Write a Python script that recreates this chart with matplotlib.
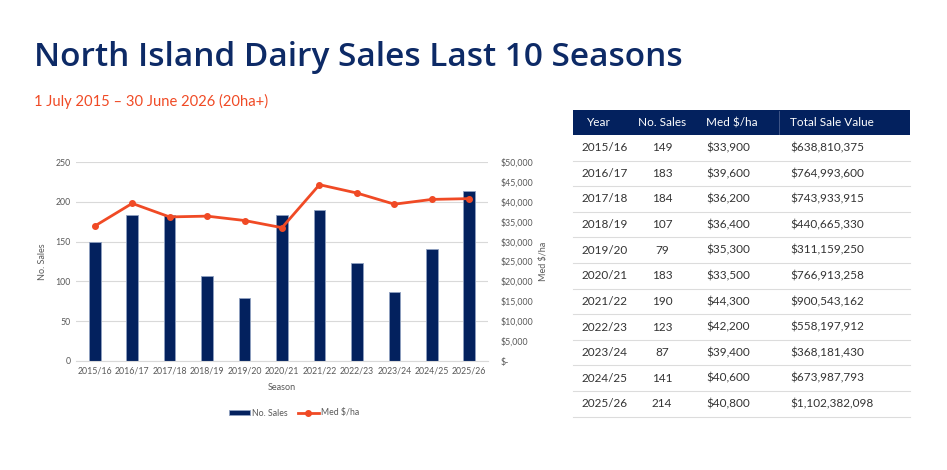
import matplotlib
matplotlib.use("Agg")
import matplotlib.pyplot as plt
from matplotlib.ticker import FuncFormatter, MultipleLocator
from matplotlib.patches import Rectangle

# ---- data ----
seasons = ["2015/16", "2016/17", "2017/18", "2018/19", "2019/20", "2020/21",
           "2021/22", "2022/23", "2023/24", "2024/25", "2025/26"]
no_sales = [149, 183, 184, 107, 79, 183, 190, 123, 87, 141, 214]
med_per_ha = [33900, 39600, 36200, 36400, 35300, 33500, 44300, 42200, 39400, 40600, 40800]
total_value = ["$638,810,375", "$764,993,600", "$743,933,915", "$440,665,330",
               "$311,159,250", "$766,913,258", "$900,543,162", "$558,197,912",
               "$368,181,430", "$673,987,793", "$1,102,382,098"]
table_headers = ["Year", "No. Sales", "Med $/ha", "Total Sale Value"]

title = "North Island Dairy Sales Last 10 Seasons"
subtitle = "1 July 2015 \u2013 30 June 2026 (20ha+)"

NAVY = "#0d2a66"
BAR = "#03215e"
RED = "#f04a25"
GRID = "#d9d9d9"
TXT = "#595959"

plt.rcParams["font.family"] = ["Lato", "DejaVu Sans"]

W, H = 947, 470
fig = plt.figure(figsize=(W / 100, H / 100), dpi=100)

# overlay axes in pixel coordinates for text / table
ov = fig.add_axes([0, 0, 1, 1])
ov.set_xlim(0, W)
ov.set_ylim(H, 0)
ov.axis("off")

ov.text(34, 58, title, fontsize=24, fontweight="semibold", color=NAVY,
        va="center", ha="left", family=["Open Sans", "DejaVu Sans"])
ov.text(34, 101, subtitle, fontsize=10.6, color=RED, va="center", ha="left")

# ---- chart ----
ax = fig.add_axes([76 / W, 1 - 361 / H, (488 - 76) / W, (361 - 162) / H])
x = list(range(len(seasons)))
ax.bar(x, no_sales, width=0.31, color=BAR, edgecolor="#8fa0c0", linewidth=0.6,
       label="No. Sales", zorder=2)
ax.set_xlim(-0.5, len(seasons) - 0.5)
ax.set_ylim(0, 250)
ax.yaxis.set_major_locator(MultipleLocator(50))
ax.grid(axis="y", color=GRID, linewidth=0.8, zorder=0)
ax.set_axisbelow(True)
for s in ["top", "right", "left"]:
    ax.spines[s].set_visible(False)
ax.spines["bottom"].set_color(GRID)
ax.tick_params(axis="both", length=0, labelsize=6.3, labelcolor=TXT, pad=4)
ax.set_xticks(x)
ax.set_xticklabels(seasons)
ax.set_xlabel("Season", fontsize=6.5, color=TXT, labelpad=5)
ax.set_ylabel("No. Sales", fontsize=6.5, color=TXT, labelpad=6)

ax2 = ax.twinx()
ax2.plot(x, med_per_ha, color=RED, linewidth=2, marker="o", markersize=4,
         label="Med $/ha", zorder=3)
ax2.set_ylim(0, 50000)
ax2.yaxis.set_major_locator(MultipleLocator(5000))
ax2.yaxis.set_major_formatter(FuncFormatter(lambda v, p: "$-" if v == 0 else "${:,.0f}".format(v)))
for s in ["top", "right", "left", "bottom"]:
    ax2.spines[s].set_visible(False)
ax2.tick_params(axis="y", length=0, labelsize=6.3, labelcolor=TXT, pad=9)
ax2.set_ylabel("Med $/ha", fontsize=6.5, color=TXT, labelpad=4)

h1, l1 = ax.get_legend_handles_labels()
h2, l2 = ax2.get_legend_handles_labels()
fig.legend(h1 + h2, l1 + l2, loc="center", bbox_to_anchor=(294 / W, 1 - 413 / H),
           ncol=2, frameon=False, fontsize=6.3, labelcolor=TXT, handlelength=2.4,
           handleheight=0.6, columnspacing=1.1, handletextpad=0.3)

# ---- table ----
tx0, tx1 = 573, 910
hy0, hy1 = 110, 135
row_h = 25.6
ov.add_patch(Rectangle((tx0, hy0), tx1 - tx0, hy1 - hy0, facecolor=BAR, edgecolor="none"))
ov.plot([779, 779], [hy0 + 1, hy1 - 1], color="#4a5f8f", linewidth=0.6)
hcy = (hy0 + hy1) / 2
hx = [(599, "center"), (662, "center"), (706, "left"), (790, "left")]
for (hxx, ha), lab in zip(hx, table_headers):
    ov.text(hxx, hcy, lab, color="white", fontsize=8.5, ha=ha, va="center")

cols = [(581, "left"), (662, "center"), (706, "left"), (790, "left")]
for i in range(len(seasons)):
    y0 = hy1 + i * row_h
    cy = y0 + row_h / 2
    vals = [seasons[i], str(no_sales[i]), "${:,.0f}".format(med_per_ha[i]), total_value[i]]
    for (cx, ha), v in zip(cols, vals):
        ov.text(cx, cy, v, color="#333333", fontsize=8.5, ha=ha, va="center")
    ov.plot([tx0, tx1], [y0 + row_h, y0 + row_h], color="#dcdcdc", linewidth=0.8)

fig.savefig("out.png", dpi=100, facecolor="white")
